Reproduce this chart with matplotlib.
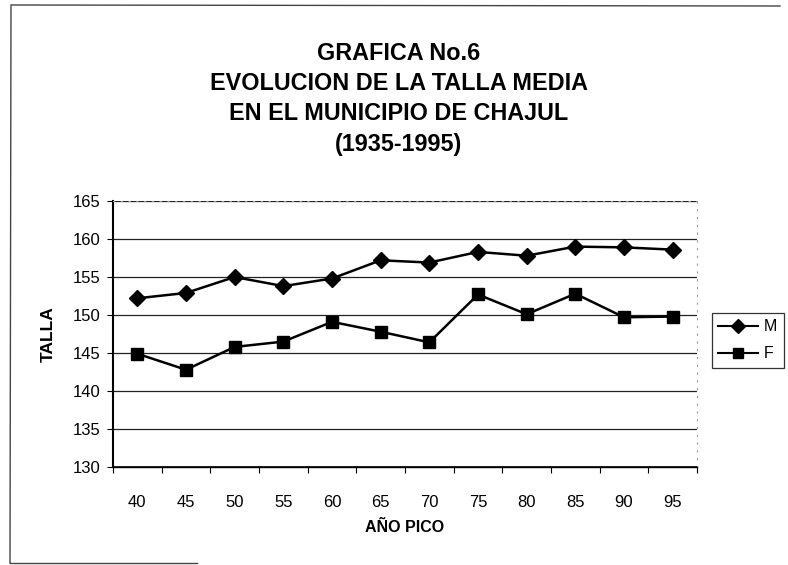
import matplotlib
matplotlib.use("Agg")
import matplotlib.pyplot as plt
from matplotlib.lines import Line2D
import numpy as np

plt.rcParams['font.family'] = ['Liberation Sans', 'DejaVu Sans']

years = ["40", "45", "50", "55", "60", "65", "70", "75", "80", "85", "90", "95"]
male = [152.2, 152.9, 155.0, 153.8, 154.8, 157.2, 156.9, 158.3, 157.8, 159.0, 158.9, 158.6]
female = [144.9, 142.8, 145.8, 146.5, 149.1, 147.8, 146.4, 152.7, 150.1, 152.8, 149.7, 149.8]
yticks = [130, 135, 140, 145, 150, 155, 160, 165]

title = "GRAFICA No.6\nEVOLUCION DE LA TALLA MEDIA\nEN EL MUNICIPIO DE CHAJUL\n(1935-1995)"

fig = plt.figure(figsize=(7.88, 5.65), dpi=100)
ax = fig.add_axes([113/788, 1-467/565, 584/788, 266/565])

x = np.arange(len(years))
ax.plot(x, male, color='black', lw=1.8, marker='D', ms=8, mfc='black', mec='black', label='M', zorder=3)
ax.plot(x, female, color='black', lw=1.8, marker='s', ms=8, mfc='black', mec='black', label='F', zorder=3)

ax.set_xlim(-0.5, len(years) - 0.5)
ax.set_ylim(130, 165)
ax.set_yticks(yticks)
ax.set_yticklabels([str(v) for v in yticks], fontsize=12)
ax.set_xticks(x)
ax.set_xticklabels(years, fontsize=12)
ax.tick_params(axis='x', which='major', length=0, pad=20)
ax.set_xticks(np.arange(-0.5, len(years), 1.0), minor=True)
ax.tick_params(axis='x', which='minor', length=4, width=0.8, direction='out')
ax.tick_params(axis='y', length=4, width=0.8, direction='out', pad=5)

for v in yticks[1:]:
    ax.axhline(v, color='#222222', lw=0.9, zorder=1)
ax.axhline(130, color='black', lw=1.2, zorder=2)

ax.spines['left'].set_linewidth(1.5)
ax.spines['bottom'].set_linewidth(1.0)
for s in ['top', 'right']:
    ax.spines[s].set_color('#999999')
    ax.spines[s].set_linestyle((0, (1, 6)))
    ax.spines[s].set_linewidth(0.8)

ax.set_ylabel("TALLA", fontsize=12.5, fontweight='bold')
ax.yaxis.set_label_coords(-0.098, 0.5)
ax.set_xlabel("AÑO PICO", fontsize=11.5, fontweight='bold')
ax.xaxis.set_label_coords(0.5, -0.20)

fig.text(0.506, 1-42/565, title, ha='center', va='top', fontsize=16.8, fontweight='bold',
         linespacing=1.40, transform=fig.transFigure)

handles = [Line2D([], [], color='black', lw=1.5, marker='D', ms=7),
           Line2D([], [], color='black', lw=1.5, marker='s', ms=7)]
leg = fig.legend(handles, ['M', 'F'], loc='upper left', bbox_to_anchor=(712/788, 1-313/565),
                 frameon=True, fancybox=False, edgecolor='black', fontsize=11.5,
                 handlelength=2.5, handletextpad=0.35, borderpad=0.4, labelspacing=0.75,
                 borderaxespad=0)
leg.get_frame().set_linewidth(0.9)

# outer chart border (partial, as in the scan)
fig.add_artist(Line2D([12/788, 780/788], [1-5/565, 1-6/565], transform=fig.transFigure, color='#444444', lw=1.0))
fig.add_artist(Line2D([11/788, 10/788], [1-5/565, 1-563/565], transform=fig.transFigure, color='#444444', lw=1.0))
fig.add_artist(Line2D([10/788, 197/788], [1-563/565, 1-563/565], transform=fig.transFigure, color='#444444', lw=1.0))

fig.savefig("out.png", dpi=100)
